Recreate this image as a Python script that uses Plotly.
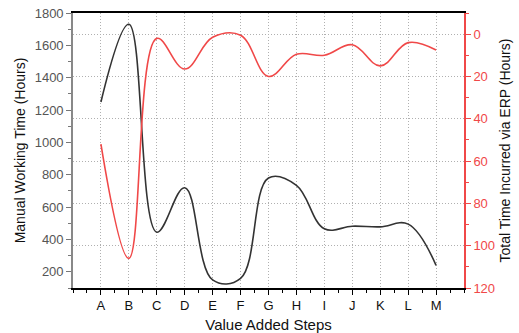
import plotly.graph_objects as go

steps = ["A", "B", "C", "D", "E", "F", "G", "H", "I", "J", "K", "L", "M"]
manual_hours = [1250, 1730, 445, 720, 150, 160, 780, 735, 466, 482, 478, 495, 240]
erp_hours = [52, 106, 2, 16.5, 1.5, 0.5, 20, 9.5, 10, 5, 15, 4, 7.5]

x_idx = list(range(len(steps)))
font_family = "Liberation Sans, Arial, sans-serif"
red = "#f04848"
grid_dash = "1px,2px"

fig = go.Figure()
fig.add_trace(go.Scatter(
    x=x_idx, y=manual_hours, mode="lines",
    line=dict(color="#333333", width=1.6, shape="spline", smoothing=1.1),
    showlegend=False,
))
fig.add_trace(go.Scatter(
    x=x_idx, y=erp_hours, mode="lines", yaxis="y2",
    line=dict(color=red, width=1.6, shape="spline", smoothing=1.1),
    showlegend=False,
))

fig.update_layout(
    width=519, height=333,
    margin=dict(l=73, r=55, t=13, b=45, autoexpand=False),
    paper_bgcolor="white", plot_bgcolor="white",
    font=dict(family=font_family, size=13, color="#222222"),
    xaxis=dict(
        range=[-1, 13], automargin=False,
        tickmode="array", tickvals=x_idx, ticktext=steps,
        ticks="outside", ticklen=5, tickwidth=1.2, tickcolor="#000000",
        minor=dict(ticks="outside", ticklen=3, tick0=-1, dtick=0.5,
                   tickcolor="#000000", showgrid=False),
        showline=True, linecolor="#000000", linewidth=1.6, mirror=True,
        showgrid=True, gridcolor="#b0b0b0", griddash=grid_dash, gridwidth=1,
        zeroline=False,
        tickfont=dict(size=13, color="#111111"),
        title=dict(text="Value Added Steps", font=dict(size=15, color="#111111"), standoff=8),
    ),
    yaxis=dict(
        range=[100, 1800], automargin=False,
        tickmode="array", tickvals=[200, 400, 600, 800, 1000, 1200, 1400, 1600, 1800],
        ticks="outside", ticklen=5, tickwidth=1, tickcolor="#777777",
        minor=dict(ticks="outside", ticklen=3, tick0=100, dtick=100,
                   tickcolor="#777777", showgrid=False),
        showline=True, linecolor="#888888", linewidth=1.6,
        showgrid=False, zeroline=False,
        tickfont=dict(size=13, color="#555555"),
        title=dict(text="Manual Working Time (Hours)", font=dict(size=14, color="#111111"), standoff=6),
    ),
    yaxis2=dict(
        overlaying="y", side="right", automargin=False,
        range=[120, -10],
        tickmode="array", tickvals=[0, 20, 40, 60, 80, 100, 120],
        ticks="outside", ticklen=5, tickwidth=1, tickcolor=red,
        minor=dict(ticks="outside", ticklen=3, tick0=0, dtick=10,
                   tickcolor=red, showgrid=False),
        showline=True, linecolor=red, linewidth=1.6,
        showgrid=True, gridcolor="#b0b0b0", griddash=grid_dash, gridwidth=1,
        zeroline=False,
        tickfont=dict(size=13, color=red),
        title=dict(text="Total Time Incurred via ERP (Hours)", font=dict(size=14, color="#111111"), standoff=6),
    ),
)

fig.write_html("out.html")
